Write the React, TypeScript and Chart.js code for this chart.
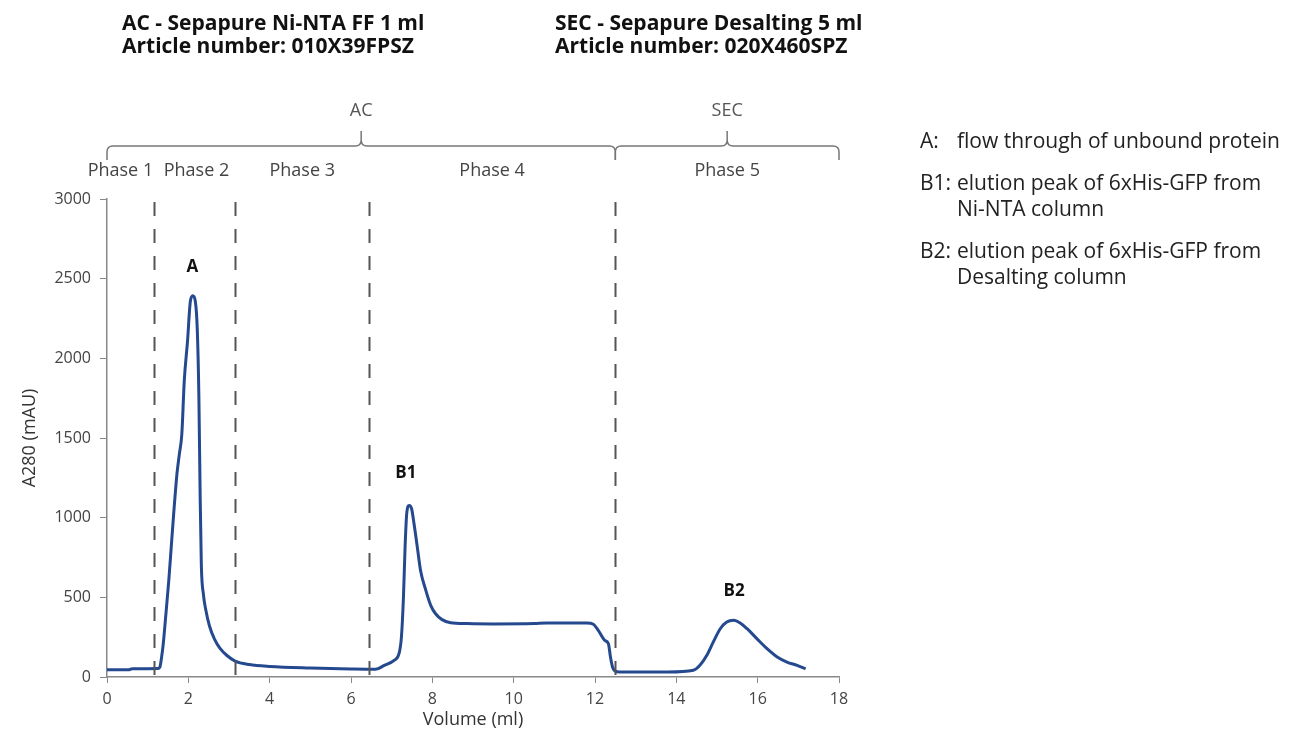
import React, { useEffect, useRef } from 'react';
import { Chart, registerables } from 'chart.js';

Chart.register(...registerables);

// ---- data ----
const volume = [
  0, 0.3, 0.55, 0.62, 1.0, 1.25, 1.3, 1.34, 1.38, 1.45, 1.52, 1.58, 1.64, 1.72, 1.78, 1.84,
  1.9, 1.98, 2.05, 2.11, 2.17, 2.22, 2.26, 2.29, 2.32, 2.37, 2.43, 2.52, 2.64, 2.78, 2.95,
  3.15, 3.5, 4.0, 5.0, 6.0, 6.6, 6.82, 7.06, 7.18, 7.24, 7.29, 7.33, 7.37, 7.43, 7.49, 7.55,
  7.63, 7.71, 7.84, 7.96, 8.08, 8.24, 8.45, 8.86, 9.5, 10.5, 10.8, 11.8, 11.96, 12.08, 12.24,
  12.33, 12.38, 12.43, 12.49, 12.6, 13.8, 14.42, 14.58, 14.75, 14.91, 15.08, 15.24, 15.41,
  15.57, 15.74, 15.98, 16.23, 16.48, 16.72, 16.97, 17.18,
];
const a280 = [
  45, 45, 46, 52, 52, 53, 62, 120, 200, 400, 608, 817, 1025, 1275, 1400, 1525,
  1858, 2108, 2358, 2392, 2360, 2180, 1750, 1150, 700, 520, 420, 320, 240, 180, 135,
  100, 78, 66, 56, 50, 48, 73, 105, 146, 251, 502, 816, 1025, 1077, 1056, 962,
  816, 669, 544, 450, 397, 360, 341, 335, 333, 335, 339, 339, 331, 293, 230,
  209, 126, 63, 38, 31, 31, 42, 73, 136, 220, 303, 345, 356,
  339, 303, 241, 178, 126, 94, 73, 52,
];

const xTickStep = 2;
const yTickStep = 500;

const dividerX = [1.15, 3.15, 6.45, 12.5];
const phaseNames = ['Phase 1', 'Phase 2', 'Phase 3', 'Phase 4', 'Phase 5'];
const phaseLabelX = [0.33, 2.2, 4.8, 9.47, 15.25];
const methodNames = ['AC', 'SEC'];
const methodStart = [0, 12.5];
const methodEnd = [12.5, 18];
const peakNames = ['A', 'B1', 'B2'];
const peakX = [2.1, 7.35, 15.42];
const peakY = [2570, 1280, 540];

const titleLeft = ['AC - Sepapure Ni-NTA FF 1 ml', 'Article number: 010X39FPSZ'];
const titleRight = ['SEC - Sepapure Desalting 5 ml', 'Article number: 020X460SPZ'];
const noteKeys = ['A:', 'B1:', 'B2:'];
const noteLines = [
  ['flow through of unbound protein'],
  ['elution peak of 6xHis-GFP from', 'Ni-NTA column'],
  ['elution peak of 6xHis-GFP from', 'Desalting column'],
];

const FONT = '"Open Sans", "Noto Sans", sans-serif';

const overlayPlugin = {
  id: 'overlay',
  afterDraw(chart: any) {
    const { ctx, chartArea, scales } = chart;
    const xs = scales.x;
    const ys = scales.y;
    const top = ys.getPixelForValue(3000);
    const bot = ys.getPixelForValue(0);
    ctx.save();
    // dashed dividers
    ctx.strokeStyle = '#555';
    ctx.lineWidth = 2;
    ctx.setLineDash([14, 13]);
    dividerX.forEach((v) => {
      const px = Math.round(xs.getPixelForValue(v)) + 0.5;
      ctx.beginPath();
      ctx.moveTo(px, top + 3);
      ctx.lineTo(px, bot);
      ctx.stroke();
    });
    ctx.setLineDash([]);

    // braces
    const yH = chartArea.top - 53;
    const yEnd = chartArea.top - 39;
    const yTip = chartArea.top - 68;
    const r = 6;
    ctx.strokeStyle = '#777';
    ctx.lineWidth = 1.5;
    methodNames.forEach((name, i) => {
      const x1 = xs.getPixelForValue(methodStart[i]);
      const x2 = xs.getPixelForValue(methodEnd[i]);
      const xm = (x1 + x2) / 2;
      ctx.beginPath();
      ctx.moveTo(x1, yEnd);
      ctx.lineTo(x1, yH + r);
      ctx.quadraticCurveTo(x1, yH, x1 + r, yH);
      ctx.lineTo(xm - r, yH);
      ctx.quadraticCurveTo(xm, yH, xm, yH - r);
      ctx.lineTo(xm, yTip);
      ctx.moveTo(xm, yH - r);
      ctx.quadraticCurveTo(xm, yH, xm + r, yH);
      ctx.lineTo(x2 - r, yH);
      ctx.quadraticCurveTo(x2, yH, x2, yH + r);
      ctx.lineTo(x2, yEnd);
      ctx.stroke();
      ctx.fillStyle = '#555';
      ctx.font = `18px ${FONT}`;
      ctx.textAlign = 'center';
      ctx.textBaseline = 'middle';
      ctx.fillText(name, xm, chartArea.top - 88);
    });

    // phase labels
    ctx.fillStyle = '#444';
    ctx.font = `18px ${FONT}`;
    ctx.textAlign = 'center';
    ctx.textBaseline = 'middle';
    phaseNames.forEach((p, i) => {
      ctx.fillText(p, xs.getPixelForValue(phaseLabelX[i]), chartArea.top - 28);
    });

    // peak labels
    ctx.fillStyle = '#111';
    ctx.font = `bold 17px ${FONT}`;
    peakNames.forEach((p, i) => {
      ctx.fillText(p, xs.getPixelForValue(peakX[i]), ys.getPixelForValue(peakY[i]));
    });
    ctx.restore();
  },
};

export default function App() {
  const canvasRef = useRef<HTMLCanvasElement | null>(null);

  useEffect(() => {
    document.body.style.margin = '0';
    const canvas = canvasRef.current;
    if (!canvas) return;
    const points = volume.map((v, i) => ({ x: v, y: a280[i] }));
    const chart = new Chart(canvas, {
      type: 'line',
      data: {
        datasets: [
          {
            data: points,
            borderColor: '#24498f',
            borderWidth: 3,
            pointRadius: 0,
            cubicInterpolationMode: 'monotone',
            fill: false,
          },
        ],
      },
      options: {
        animation: false,
        responsive: true,
        maintainAspectRatio: false,
        layout: { padding: { left: 0, top: 199, right: 457, bottom: 0 } },
        plugins: { legend: { display: false }, tooltip: { enabled: false }, title: { display: false } },
        scales: {
          x: {
            type: 'linear',
            min: 0,
            max: 18,
            ticks: { stepSize: xTickStep, color: '#444', font: { family: FONT, size: 16 }, padding: 7, callback: (v: any) => String(v) },
            grid: { display: true, drawOnChartArea: false, drawTicks: true, tickLength: 6, color: '#888' },
            border: { display: true, color: '#888', width: 1.5 },
            title: { display: true, text: 'Volume (ml)', color: '#333', font: { family: FONT, size: 18 }, padding: { top: 0, bottom: 7 } },
            afterFit: (s: any) => { s.height = 61; },
          },
          y: {
            type: 'linear',
            min: 0,
            max: 3000,
            ticks: { stepSize: yTickStep, color: '#444', font: { family: FONT, size: 16 }, padding: 9, callback: (v: any) => String(v) },
            grid: { display: true, drawOnChartArea: false, drawTicks: true, tickLength: 7, color: '#888' },
            border: { display: true, color: '#888', width: 1.5 },
            title: { display: true, text: 'A280 (mAU)', color: '#333', font: { family: FONT, size: 18 }, padding: { top: 19, bottom: 0 } },
            afterFit: (s: any) => { s.width = 107; },
          },
        },
      },
      plugins: [overlayPlugin],
    });
    return () => chart.destroy();
  }, []);

  const titleStyle: React.CSSProperties = {
    position: 'absolute',
    top: 11,
    fontFamily: FONT,
    fontWeight: 700,
    fontSize: 21,
    lineHeight: '23px',
    color: '#111',
    whiteSpace: 'nowrap',
  };
  const noteTops = [127, 169, 237];
  return (
    <div style={{ position: 'fixed', left: 0, top: 0, width: 1296, height: 738, background: '#fff' }}>
      <canvas ref={canvasRef} style={{ position: 'absolute', left: 0, top: 0, width: 1296, height: 738 }} />
      <div style={{ ...titleStyle, left: 122 }}>
        {titleLeft.map((t) => (<div key={t}>{t}</div>))}
      </div>
      <div style={{ ...titleStyle, left: 555 }}>
        {titleRight.map((t) => (<div key={t}>{t}</div>))}
      </div>
      {noteKeys.map((k, i) => (
        <div key={k} style={{ position: 'absolute', left: 920, top: noteTops[i], fontFamily: FONT, fontSize: 21, lineHeight: '26px', color: '#222', whiteSpace: 'nowrap' }}>
          <span style={{ position: 'absolute', left: 0, top: 0 }}>{k}</span>
          {noteLines[i].map((l, j) => (
            <div key={j} style={{ paddingLeft: 37 }}>{l}</div>
          ))}
        </div>
      ))}
    </div>
  );
}
